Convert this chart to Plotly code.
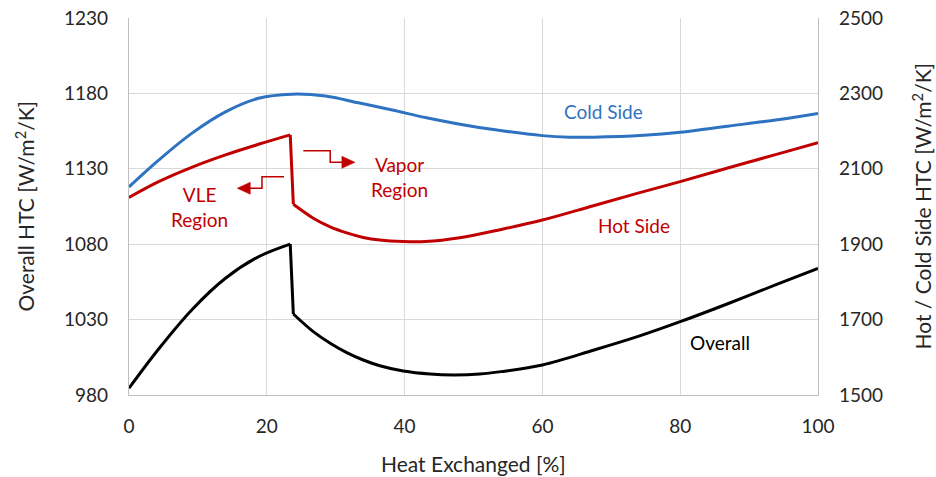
import plotly.graph_objects as go

# ---- data ----
cold_x = [0, 4.3, 9.1, 14, 18.8, 23.6, 28.5, 33.3, 38.2, 43, 47.8, 52.9, 60, 64, 67.4, 74.7, 80, 86.9, 94.1, 100]
cold_htc = [2052, 2123, 2194, 2251, 2287, 2298, 2293, 2275, 2256, 2236, 2219, 2204, 2188, 2184, 2184, 2189, 2197, 2213, 2230, 2247]

hot_x_vle = [0, 4.3, 9.1, 14, 18.8, 23.4]
hot_htc_vle = [2024, 2066, 2104, 2137, 2165, 2190]
hot_x_vap = [23.85, 26.75, 29.2, 31.6, 34.0, 36.4, 39.8, 43, 48, 54, 60, 67.4, 74, 80, 86.9, 94.1, 100]
hot_htc_vap = [2006, 1969, 1946, 1930, 1918, 1911, 1907, 1907, 1917, 1939, 1964, 2002, 2036, 2066, 2102, 2139, 2169]

overall_x_vle = [0, 4.3, 9.1, 14, 18.8, 23.4]
overall_htc_vle = [984.5, 1010.5, 1036.4, 1057.4, 1071.7, 1080.1]
overall_x_vap = [23.85, 26.75, 29.2, 31.6, 34.0, 36.4, 39.8, 43.7, 47.1, 50.9, 54, 60, 67.5, 74, 80, 86.9, 94.1, 100]
overall_htc_vap = [1033.7, 1022.0, 1014.3, 1008.1, 1003.2, 999.4, 995.9, 993.9, 993.3, 993.9, 995.5, 999.9, 1009.8, 1019, 1028.6, 1040.5, 1053.5, 1064]

x_ticks = [0, 20, 40, 60, 80, 100]
left_ticks = [980, 1030, 1080, 1130, 1180, 1230]
right_ticks = [1500, 1700, 1900, 2100, 2300, 2500]

BLUE = "#2E72C2"
RED = "#C00000"
BLACK = "#000000"
GRID = "#D9D9D9"
TXT = "#262626"
FONT = "Lato"

fig = go.Figure()

def add_series(xv, yv, color, yaxis, shape="spline"):
    fig.add_trace(go.Scatter(x=xv, y=yv, mode="lines", yaxis=yaxis,
                             line=dict(color=color, width=3, shape=shape, smoothing=1.0),
                             showlegend=False, hoverinfo="skip"))

# cold side
add_series(cold_x, cold_htc, BLUE, "y2")
# hot side: VLE part, jump, vapor part
add_series(hot_x_vle, hot_htc_vle, RED, "y2")
add_series([hot_x_vle[-1], hot_x_vap[0]], [hot_htc_vle[-1], hot_htc_vap[0]], RED, "y2", "linear")
add_series(hot_x_vap, hot_htc_vap, RED, "y2")
# overall
add_series(overall_x_vle, overall_htc_vle, BLACK, "y")
add_series([overall_x_vle[-1], overall_x_vap[0]], [overall_htc_vle[-1], overall_htc_vap[0]], BLACK, "y", "linear")
add_series(overall_x_vap, overall_htc_vap, BLACK, "y")

tickfont = dict(family=FONT, size=19, color=TXT)

L, R, T, B = 129, 118, 18, 82
W, H = 936, 477
plot_w = W - L - R
plot_h = H - T - B

fig.update_layout(
    width=W, height=H, autosize=False,
    margin=dict(l=L, r=R, t=T, b=B, pad=0, autoexpand=False),
    paper_bgcolor="white", plot_bgcolor="white",
    font=dict(family=FONT, color=TXT),
    xaxis=dict(range=[0, 100], tickvals=x_ticks, showgrid=True, gridcolor=GRID, gridwidth=1.3,
               showline=True, linecolor="#BFBFBF", linewidth=1.3, zeroline=False, automargin=False,
               tickfont=tickfont, ticks="", ticklabelstandoff=14),
    yaxis=dict(range=[980, 1230], tickvals=left_ticks, showgrid=True, gridcolor=GRID, gridwidth=1.3,
               showline=True, linecolor="#BFBFBF", linewidth=1.3, zeroline=False, automargin=False,
               tickfont=tickfont, ticks="", ticklabelstandoff=16),
    yaxis2=dict(range=[1500, 2500], tickvals=right_ticks, overlaying="y", side="right",
                showgrid=False, showline=True, linecolor="#BFBFBF", linewidth=1.3, zeroline=False,
                automargin=False, tickfont=tickfont, ticks="", ticklabelstandoff=16),
)

titlefont = dict(family=FONT, size=21, color=TXT)
# axis titles
fig.add_annotation(text="Heat Exchanged [%]", x=0.5, y=-(463 - (H - B)) / plot_h, xref="paper", yref="paper",
                   showarrow=False, font=titlefont, xanchor="center", yanchor="middle")
fig.add_annotation(text="Overall HTC [W/m<sup>2</sup>/K]", x=(24 - L) / plot_w, y=0.5,
                   xref="paper", yref="paper", showarrow=False, textangle=-90,
                   font=titlefont, xanchor="center", yanchor="middle")
fig.add_annotation(text="Hot / Cold Side HTC [W/m<sup>2</sup>/K]", x=(921 - L) / plot_w, y=0.5,
                   xref="paper", yref="paper", showarrow=False, textangle=-90,
                   font=titlefont, xanchor="center", yanchor="middle")

# series labels
lab = 19
fig.add_annotation(text="Cold Side", x=68.9, y=1167.7, xref="x", yref="y", showarrow=False,
                   font=dict(family=FONT, size=lab, color=BLUE))
fig.add_annotation(text="Hot Side", x=73.3, y=1092.7, xref="x", yref="y", showarrow=False,
                   font=dict(family=FONT, size=lab, color=RED))
fig.add_annotation(text="Overall", x=85.8, y=1014.5, xref="x", yref="y", showarrow=False,
                   font=dict(family=FONT, size=lab, color=BLACK))
fig.add_annotation(text="Vapor<br>Region", x=39.2, y=1124.6, xref="x", yref="y", showarrow=False,
                   font=dict(family=FONT, size=lab, color=RED))
fig.add_annotation(text="VLE<br>Region", x=10.3, y=1104.7, xref="x", yref="y", showarrow=False,
                   font=dict(family=FONT, size=lab, color=RED))

# elbow arrows (connector + filled head)
fig.add_shape(type="path", path="M 25.3 1142.0 L 29.2 1142.0 L 29.2 1134.3 L 31.0 1134.3",
              xref="x", yref="y", line=dict(color=RED, width=1.5))
fig.add_shape(type="path", path="M 32.8 1134.3 L 30.9 1138.3 L 30.9 1130.3 Z",
              xref="x", yref="y", line=dict(color=RED, width=0.5), fillcolor=RED)
fig.add_shape(type="path", path="M 22.5 1124.8 L 19.3 1124.8 L 19.3 1117.1 L 17.5 1117.1",
              xref="x", yref="y", line=dict(color=RED, width=1.5))
fig.add_shape(type="path", path="M 15.7 1117.1 L 17.6 1121.1 L 17.6 1113.1 Z",
              xref="x", yref="y", line=dict(color=RED, width=0.5), fillcolor=RED)

fig.write_html("out.html", config={"displayModeBar": False},
               post_script="document.body.style.margin='0';document.body.style.overflow='hidden';")
